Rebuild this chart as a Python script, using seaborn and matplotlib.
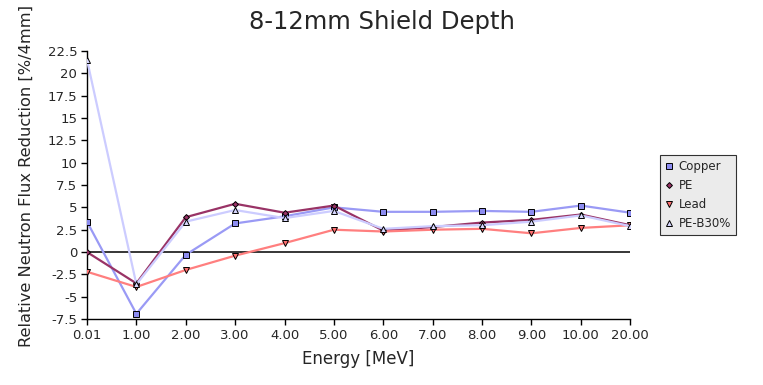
import matplotlib
matplotlib.use("Agg")
import matplotlib.pyplot as plt
import seaborn as sns
import pandas as pd

energies = ["0.01", "1.00", "2.00", "3.00", "4.00", "5.00", "6.00", "7.00", "8.00", "9.00", "10.00", "20.00"]
copper = [3.4, -6.9, -0.3, 3.2, 4.0, 5.0, 4.5, 4.5, 4.6, 4.5, 5.2, 4.4]
pe = [0.0, -3.5, 3.9, 5.4, 4.4, 5.2, 2.4, 2.8, 3.3, 3.6, 4.2, 3.0]
lead = [-2.2, -3.9, -2.0, -0.4, 1.0, 2.5, 2.3, 2.5, 2.6, 2.1, 2.7, 3.0]
pe_b30 = [21.5, -3.6, 3.4, 4.7, 3.8, 4.6, 2.6, 2.9, 3.0, 3.4, 4.1, 2.9]
yticks = [22.5, 20, 17.5, 15, 12.5, 10, 7.5, 5, 2.5, 0, -2.5, -5, -7.5]
ytick_labels = ["22.5", "20", "17.5", "15", "12.5", "10", "7.5", "5", "2.5", "0", "-2.5", "-5", "-7.5"]

series = [
    ("Copper", copper, "#9a9af5", "s", "#8c8cf0", 4.0),
    ("PE", pe, "#993366", "D", "#993366", 3.0),
    ("Lead", lead, "#ff7f7f", "v", "#ff7070", 4.2),
    ("PE-B30%", pe_b30, "#ccccff", "^", "#d8d8ff", 4.2),
]

sns.set_style("white")
plt.rcParams['font.family'] = ['DejaVu Sans']

fig = plt.figure(figsize=(7.63, 3.85), dpi=100)
ax = fig.add_axes([0.114, 0.171, 0.712, 0.697])

ax.axhline(0, color="black", lw=1.1, zorder=1)

for name, vals, lc, mk, fc, ms in series:
    df = pd.DataFrame({"x": list(range(len(energies))), "y": vals})
    sns.lineplot(data=df, x="x", y="y", ax=ax, color=lc, lw=1.6, marker=mk,
                 markersize=ms, markerfacecolor=fc, markeredgecolor="black",
                 markeredgewidth=0.7, label=name, zorder=3)

ax.set_xlim(0, len(energies) - 1)
ax.set_ylim(-7.5, 22.5)
ax.set_xticks(range(len(energies)))
ax.set_xticklabels(energies, fontsize=9.5)
ax.set_yticks(yticks)
ax.set_yticklabels(ytick_labels, fontsize=9.5)
ax.tick_params(axis="both", direction="out", length=4, width=1, color="black", pad=3, left=True, bottom=True)
for s in ["top", "right"]:
    ax.spines[s].set_visible(False)
for s in ["left", "bottom"]:
    ax.spines[s].set_color("black")
    ax.spines[s].set_linewidth(1)

ax.set_xlabel("Energy [MeV]", fontsize=12, labelpad=6)
ax.set_ylabel("Relative Neutron Flux Reduction [%/4mm]", fontsize=11.7)
ax.yaxis.set_label_coords(-0.097, 0.532)
fig.suptitle("8-12mm Shield Depth", fontsize=17.5, y=0.975)

leg = ax.legend(loc="upper left", bbox_to_anchor=(1.055, 0.612), fontsize=8.5,
                frameon=True, fancybox=False, facecolor="#e6e6e6", edgecolor="black",
                handlelength=0.6, handletextpad=0.5, borderpad=0.45, labelspacing=0.5,
                borderaxespad=0)
for h in leg.get_lines():
    h.set_linestyle("")
leg.get_frame().set_linewidth(0.8)

fig.savefig("out.png", dpi=100)
